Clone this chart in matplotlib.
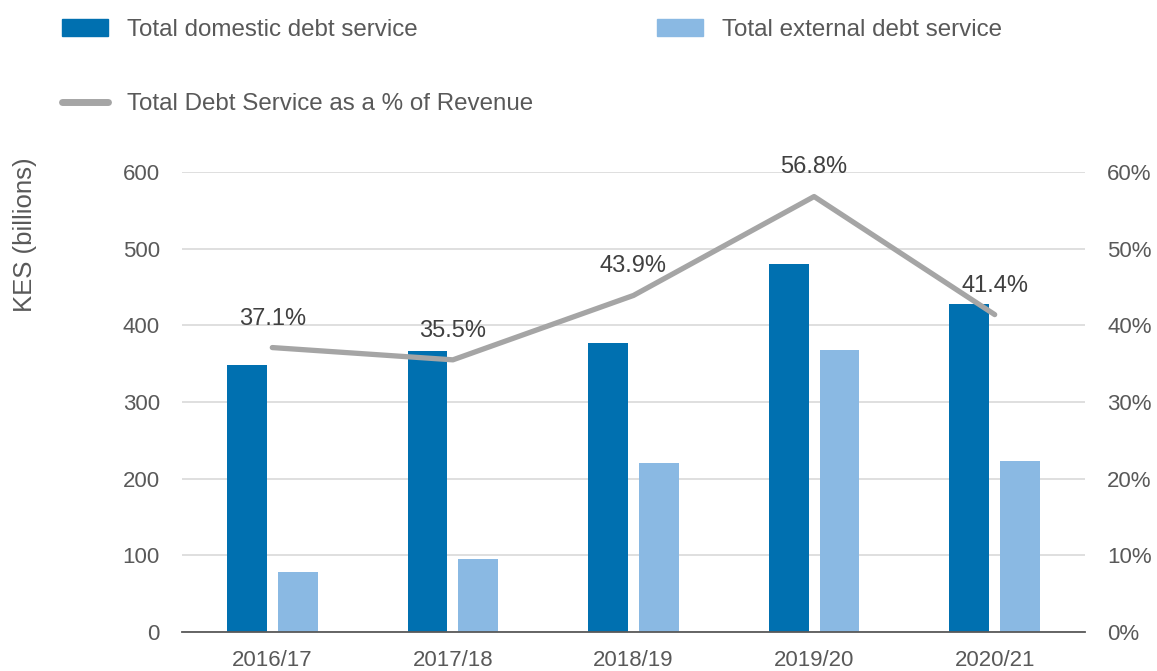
import matplotlib
matplotlib.use("Agg")
import matplotlib.pyplot as plt
import numpy as np
from matplotlib.patches import Patch
from matplotlib.lines import Line2D

plt.rcParams['font.family'] = ['Liberation Sans', 'DejaVu Sans']

categories = ["2016/17", "2017/18", "2018/19", "2019/20", "2020/21"]
domestic = [348, 366, 377, 480, 428]
external = [78, 95, 220, 368, 223]
pct_revenue = [37.1, 35.5, 43.9, 56.8, 41.4]

dark_blue = "#0070B0"
light_blue = "#8AB9E3"
grey_line = "#A5A5A5"
text_col = "#595959"

fig = plt.figure(figsize=(11.57, 6.71), dpi=100)
ax = fig.add_axes([182/1157, 1-632/671, (1085-182)/1157, (632-172)/671])
ax2 = ax.twinx()

x = np.arange(len(categories))
w = 0.22
off = 0.141
ax.bar(x - off, domestic, width=w, color=dark_blue, zorder=2)
ax.bar(x + off, external, width=w, color=light_blue, zorder=2)

ax.set_xlim(-0.5, len(categories) - 0.5)
ax.set_ylim(0, 600)
ax.set_yticks(range(0, 601, 100))
ax.grid(axis='y', color='#D9D9D9', linewidth=1.2, zorder=0)
ax.set_axisbelow(True)
for s in ['left', 'right', 'top']:
    ax.spines[s].set_visible(False)
    ax2.spines[s].set_visible(False)
ax2.spines['bottom'].set_visible(False)
ax.spines['bottom'].set_color('#595959')
ax.spines['bottom'].set_linewidth(1.3)
ax.tick_params(axis='y', length=0, labelsize=16, colors=text_col, pad=16)
ax.tick_params(axis='x', length=0, labelsize=16, colors=text_col, pad=13)
ax.set_xticks(x)
ax.set_xticklabels(categories)

ax2.plot(x, pct_revenue, color=grey_line, linewidth=3.8, solid_capstyle='round', zorder=3)
ax2.set_ylim(0, 60)
ax2.set_yticks(range(0, 61, 10))
ax2.set_yticklabels([f"{v}%" for v in range(0, 61, 10)])
ax2.tick_params(axis='y', length=0, labelsize=16, colors=text_col, pad=16)
for xi, v in zip(x, pct_revenue):
    ax2.annotate(f"{v}%", (xi, v), xytext=(0, 13), textcoords='offset points',
                 ha='center', va='bottom', fontsize=17, color='#404040')

fig.text(25/1157, 1-235/671, "KES (billions)", rotation=90, ha='center', va='center',
         fontsize=18.5, color=text_col)

handles = [Patch(color=dark_blue), Line2D([0], [0], color=grey_line, linewidth=5, solid_capstyle='round'),
           Patch(color=light_blue)]
labels = ["Total domestic debt service", "Total Debt Service as a % of Revenue", "Total external debt service"]
fig.legend(handles, labels, ncol=2, loc='upper left', bbox_to_anchor=(62/1157, 1-19/671),
           frameon=False, fontsize=17.4, labelcolor=text_col, handlelength=1.9,
           handletextpad=0.8, columnspacing=5.1, labelspacing=2.15, borderaxespad=0,
           borderpad=0)

fig.savefig("out.png", dpi=100)
